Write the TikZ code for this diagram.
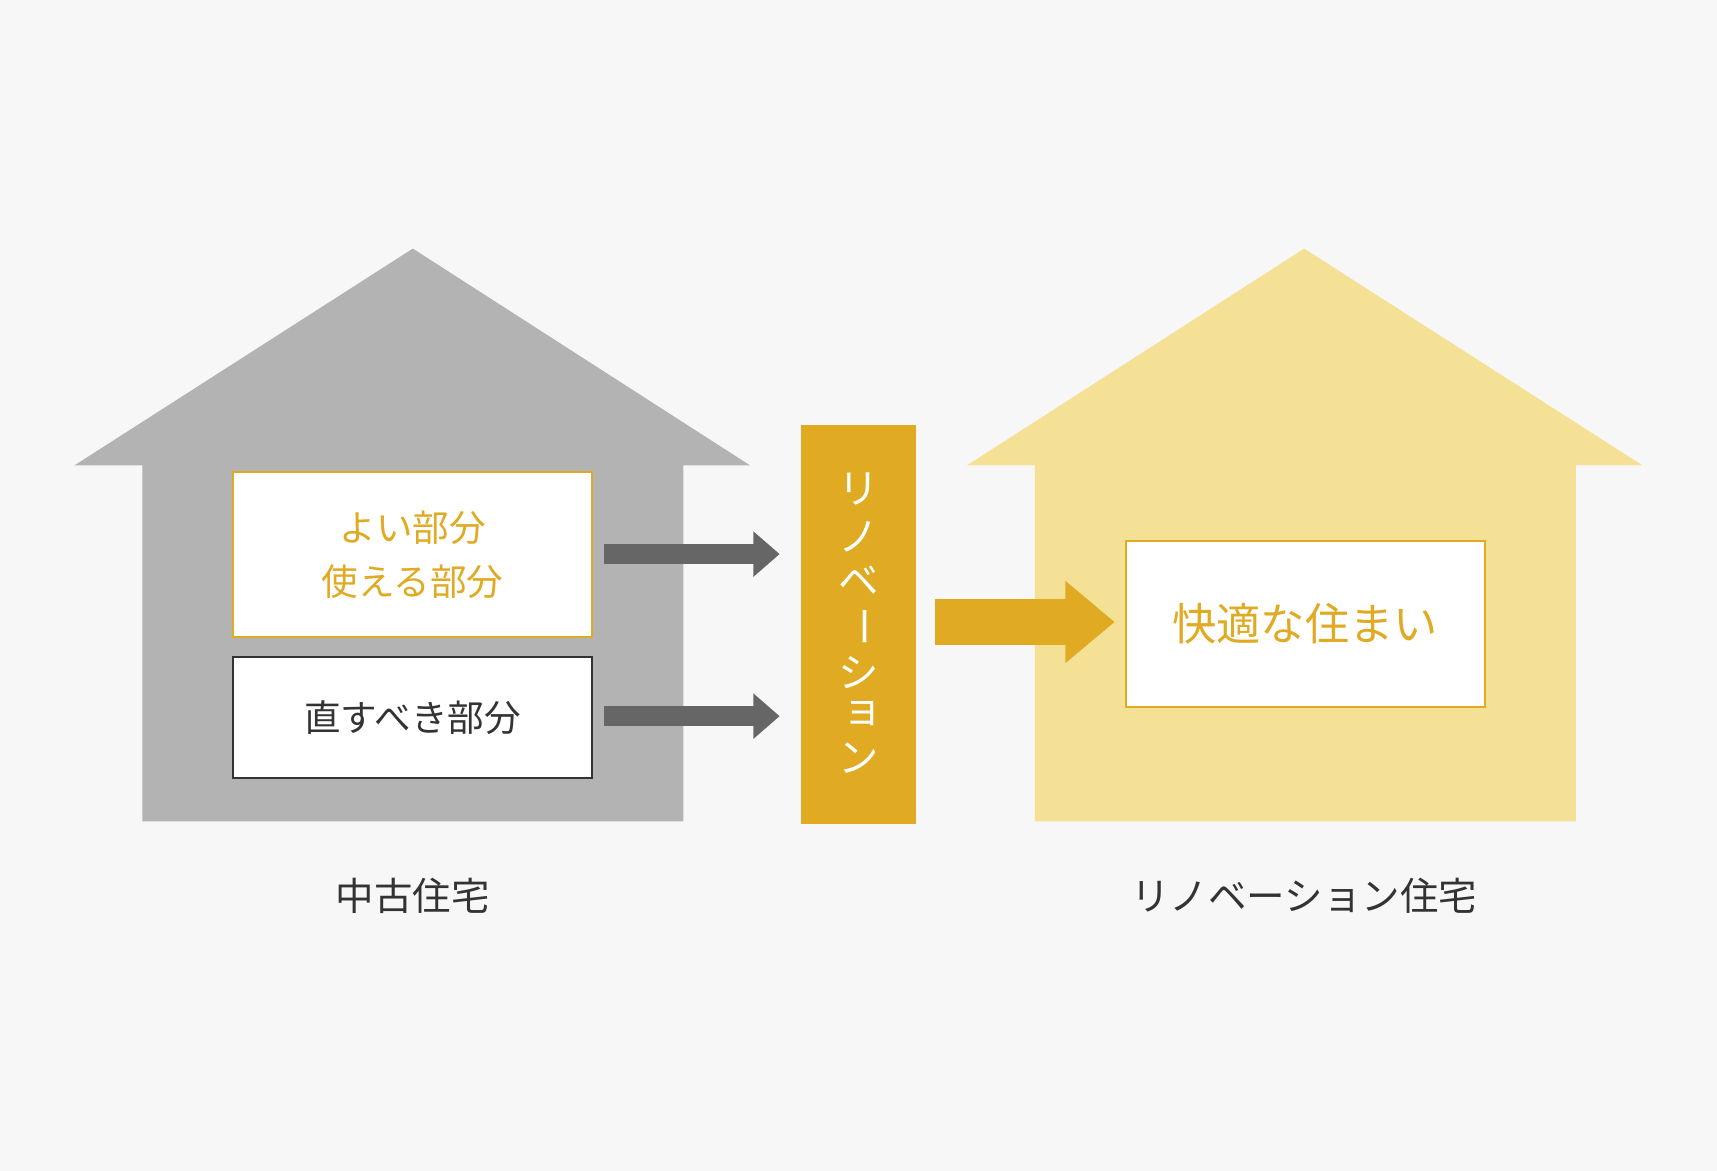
\documentclass[tikz,border=0pt]{standalone}
\usepackage{fontspec}
\newfontfamily\cjk{Noto Sans CJK JP}
\usetikzlibrary{arrows.meta}
\definecolor{bg}{HTML}{F7F7F7}
\definecolor{oldh}{HTML}{B3B3B3}
\definecolor{newh}{HTML}{F5E196}
\definecolor{gold}{HTML}{E0AA22}
\definecolor{dk}{HTML}{333333}
\definecolor{arr}{HTML}{666666}
\begin{document}
\begin{tikzpicture}[x=0.1mm,y=-0.1mm,
  box/.style={draw, fill=white, line width=0.5pt, inner sep=0pt, anchor=north west},
  lbl/.style={font=\cjk\fontsize{10}{12}\selectfont, text=dk},
  vch/.style={font=\cjk\fontsize{10.5}{12}\selectfont, text=white}]
\fill[bg] (0,0) rectangle (1568,1069);
\useasboundingbox (0,0) rectangle (1568,1069);
% houses
\fill[oldh] (68,425) -- (377,227) -- (685,425) -- (624,425) -- (624,750) -- (130,750) -- (130,425) -- cycle;
\fill[newh] (883,425) -- (1191,227) -- (1500,425) -- (1439,425) -- (1439,750) -- (945,750) -- (945,425) -- cycle;
% boxes
\node[box, draw=gold, minimum width=32.8mm, minimum height=15.1mm] (good) at (212,430) {};
\node[font=\cjk\fontsize{9.5}{14}\selectfont, text=gold, align=center] at (good.center) {よい部分\\使える部分};
\node[box, draw=dk, minimum width=32.8mm, minimum height=11.1mm] (fix) at (212,599) {};
\node[font=\cjk\fontsize{9.5}{12}\selectfont, text=dk] at (fix.center) {直すべき部分};
\node[box, draw=gold, minimum width=32.8mm, minimum height=15.2mm] (comf) at (1027,493) {};
\node[font=\cjk\fontsize{11.5}{12}\selectfont, text=gold] at (comf.center) {快適な住まい};
% bar
\node[fill=gold, inner sep=0pt, minimum width=10.5mm, minimum height=36.5mm, anchor=north west] (bar) at (731,387) {};
\node[vch] at (784,447) {リ};
\node[vch] at (784,490) {ノ};
\node[vch] at (784,530) {ベ};
\node[vch, rotate=-90] at (784,572) {ー};
\node[vch] at (784,614) {シ};
\node[vch] at (788,652) {ョ};
\node[vch] at (784,692) {ン};
% arrows
\coordinate (a1s) at (552,506); \coordinate (a1e) at (712,506);
\coordinate (a2s) at (552,654); \coordinate (a2e) at (712,654);
\coordinate (a3s) at (854,568); \coordinate (a3e) at (1018,568);
\draw[arr, line width=1.8mm, -{Triangle[length=2.4mm,width=4mm]}] (a1s) -- (a1e);
\draw[arr, line width=1.8mm, -{Triangle[length=2.4mm,width=4mm]}] (a2s) -- (a2e);
\draw[gold, line width=4.2mm, -{Triangle[length=4.5mm,width=7.2mm]}] (a3s) -- (a3e);
% labels
\node[lbl] (l1) at (377,818) {中古住宅};
\node[lbl] (l2) at (1191,818) {リノベーション住宅};
\end{tikzpicture}
\end{document}
